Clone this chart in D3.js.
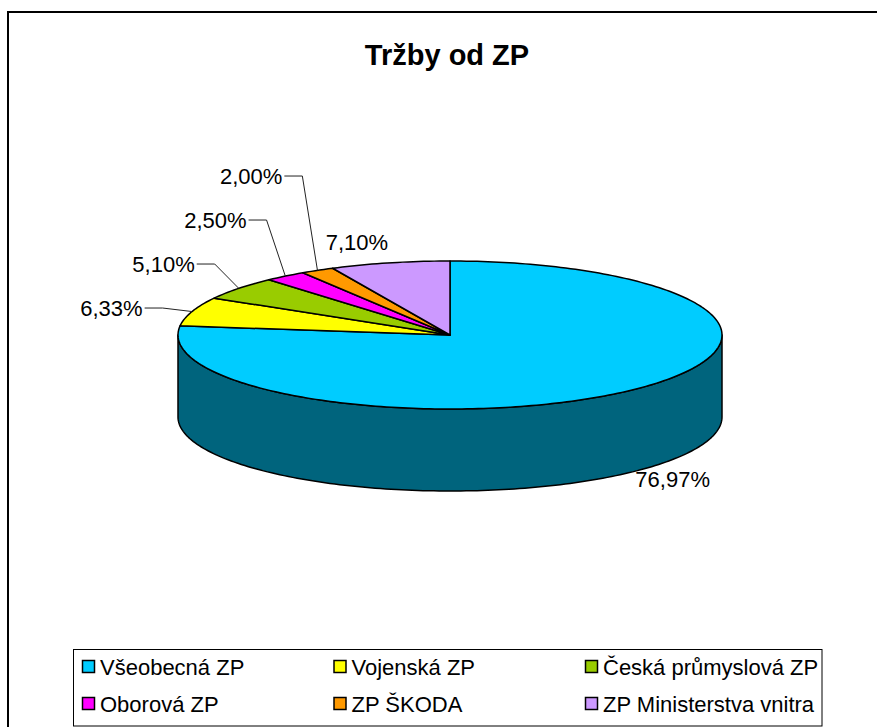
<!DOCTYPE html>
<html>
<head>
<meta charset="utf-8">
<script src="https://cdn.jsdelivr.net/npm/d3@7"></script>
<style>
  body { margin: 0; background: #fff; }
  text { font-family: "Liberation Sans", Arial, sans-serif; fill: #000; }
</style>
</head>
<body>
<div id="chart"></div>
<script>
const categories = ["Všeobecná ZP", "Vojenská ZP", "Česká průmyslová ZP", "Oborová ZP", "ZP ŠKODA", "ZP Ministerstva vnitra"];
const shares = [76.97, 6.33, 5.10, 2.50, 2.00, 7.10];
const colors = ["#00CCFF", "#FFFF00", "#99CC00", "#FF00FF", "#FF9900", "#CC99FF"];
const title = "Tržby od ZP";

const width = 877, height = 727;
const cx = 450, cy = 335, rx = 272, ry = 74, depth = 82;

const czech = d3.formatLocale({ decimal: ",", thousands: " ", grouping: [3], currency: ["", " Kč"] });
const fmt = v => czech.format(".2f")(v) + "%";

const svg = d3.select("#chart")
  .append("svg")
  .attr("width", width)
  .attr("height", height);

// outer frame
svg.append("rect")
  .attr("x", 8).attr("y", 12)
  .attr("width", 878).attr("height", 740)
  .attr("fill", "none")
  .attr("stroke", "#000")
  .attr("stroke-width", 2);

svg.append("text")
  .attr("x", 447).attr("y", 65)
  .attr("text-anchor", "middle")
  .attr("font-size", 29)
  .attr("font-weight", "bold")
  .text(title);

const data = categories.map((c, i) => ({ name: c, value: shares[i], color: colors[i] }));
const arcs = d3.pie().sort(null).value(d => d.value)(data);

// angle measured clockwise from 12 o'clock, projected on the tilted ellipse
const pt = (a, dy = 0) => [cx + rx * Math.sin(a), cy - ry * Math.cos(a) + dy];
const arcPts = (a0, a1, dy = 0) => {
  const n = Math.max(2, Math.ceil((a1 - a0) / 0.02));
  return d3.range(n + 1).map(k => pt(a0 + (a1 - a0) * k / n, dy));
};
const line = d3.line();

// side walls (front half only)
const front0 = Math.PI / 2, front1 = Math.PI * 3 / 2;
const side = svg.append("g");
arcs.forEach(d => {
  const s = Math.max(d.startAngle, front0), e = Math.min(d.endAngle, front1);
  if (e <= s) return;
  const pts = arcPts(s, e).concat(arcPts(s, e, depth).reverse());
  side.append("path")
    .attr("d", line(pts) + "Z")
    .attr("fill", d3.color(d.data.color).darker(2))
    .attr("stroke", "#000")
    .attr("stroke-width", 1.5)
    .attr("stroke-linejoin", "round");
});

// top face
svg.append("g")
  .selectAll("path")
  .data(arcs)
  .join("path")
  .attr("d", d => line([[cx, cy]].concat(arcPts(d.startAngle, d.endAngle))) + "Z")
  .attr("fill", d => d.data.color)
  .attr("stroke", "#000")
  .attr("stroke-width", 1.5)
  .attr("stroke-linejoin", "round");

// data labels
const lab = svg.append("g").attr("font-size", 22);
const leader = arcs.filter(d => d.data.value < 7).map(d => {
  const m = (d.startAngle + d.endAngle) / 2;
  return { d, m, x: cx + 1.114 * rx * Math.sin(m), y: cy - 1.15 * ry * Math.cos(m) };
}).sort((a, b) => b.y - a.y);
let prev = Infinity;
leader.forEach(l => {
  l.y = Math.min(l.y, prev - 44);
  prev = l.y;
  const edge = pt(l.m);
  lab.append("polyline")
    .attr("points", [[l.x - 18, l.y], [l.x, l.y], edge].join(" "))
    .attr("fill", "none")
    .attr("stroke", "#222")
    .attr("stroke-width", 1);
  lab.append("text")
    .attr("x", l.x - 20).attr("y", l.y + 8)
    .attr("text-anchor", "end")
    .text(fmt(l.d.data.value));
});

arcs.filter(d => d.data.value >= 7).forEach(d => {
  const m = (d.startAngle + d.endAngle) / 2;
  const isFront = Math.cos(m) < 0;
  const p = pt(m, isFront ? depth : 0);
  lab.append("text")
    .attr("x", p[0] + 8 * Math.sin(m))
    .attr("y", isFront ? p[1] + 15 : p[1] - 13)
    .attr("text-anchor", Math.sin(m) > 0 ? "start" : "end")
    .text(fmt(d.data.value));
});

// legend
const legend = svg.append("g");
legend.append("rect")
  .attr("x", 73.5).attr("y", 649.5)
  .attr("width", 748.5).attr("height", 76.5)
  .attr("fill", "#fff")
  .attr("stroke", "#000")
  .attr("stroke-width", 1);

const colX = d3.scaleLinear().domain([0, 2]).range([82, 585]);
const rowY = d3.scaleLinear().domain([0, 1]).range([667, 704]);

const item = legend.selectAll("g.item")
  .data(data)
  .join("g")
  .attr("class", "item")
  .attr("transform", (d, i) => `translate(${colX(i % 3)},${rowY(Math.floor(i / 3))})`);

item.append("rect")
  .attr("x", 0.5).attr("y", -6.5)
  .attr("width", 12).attr("height", 12)
  .attr("fill", d => d.color)
  .attr("stroke", "#000")
  .attr("stroke-width", 1.5);

item.append("text")
  .attr("x", 18).attr("y", 8)
  .attr("font-size", 22)
  .text(d => d.name);
</script>
</body>
</html>
